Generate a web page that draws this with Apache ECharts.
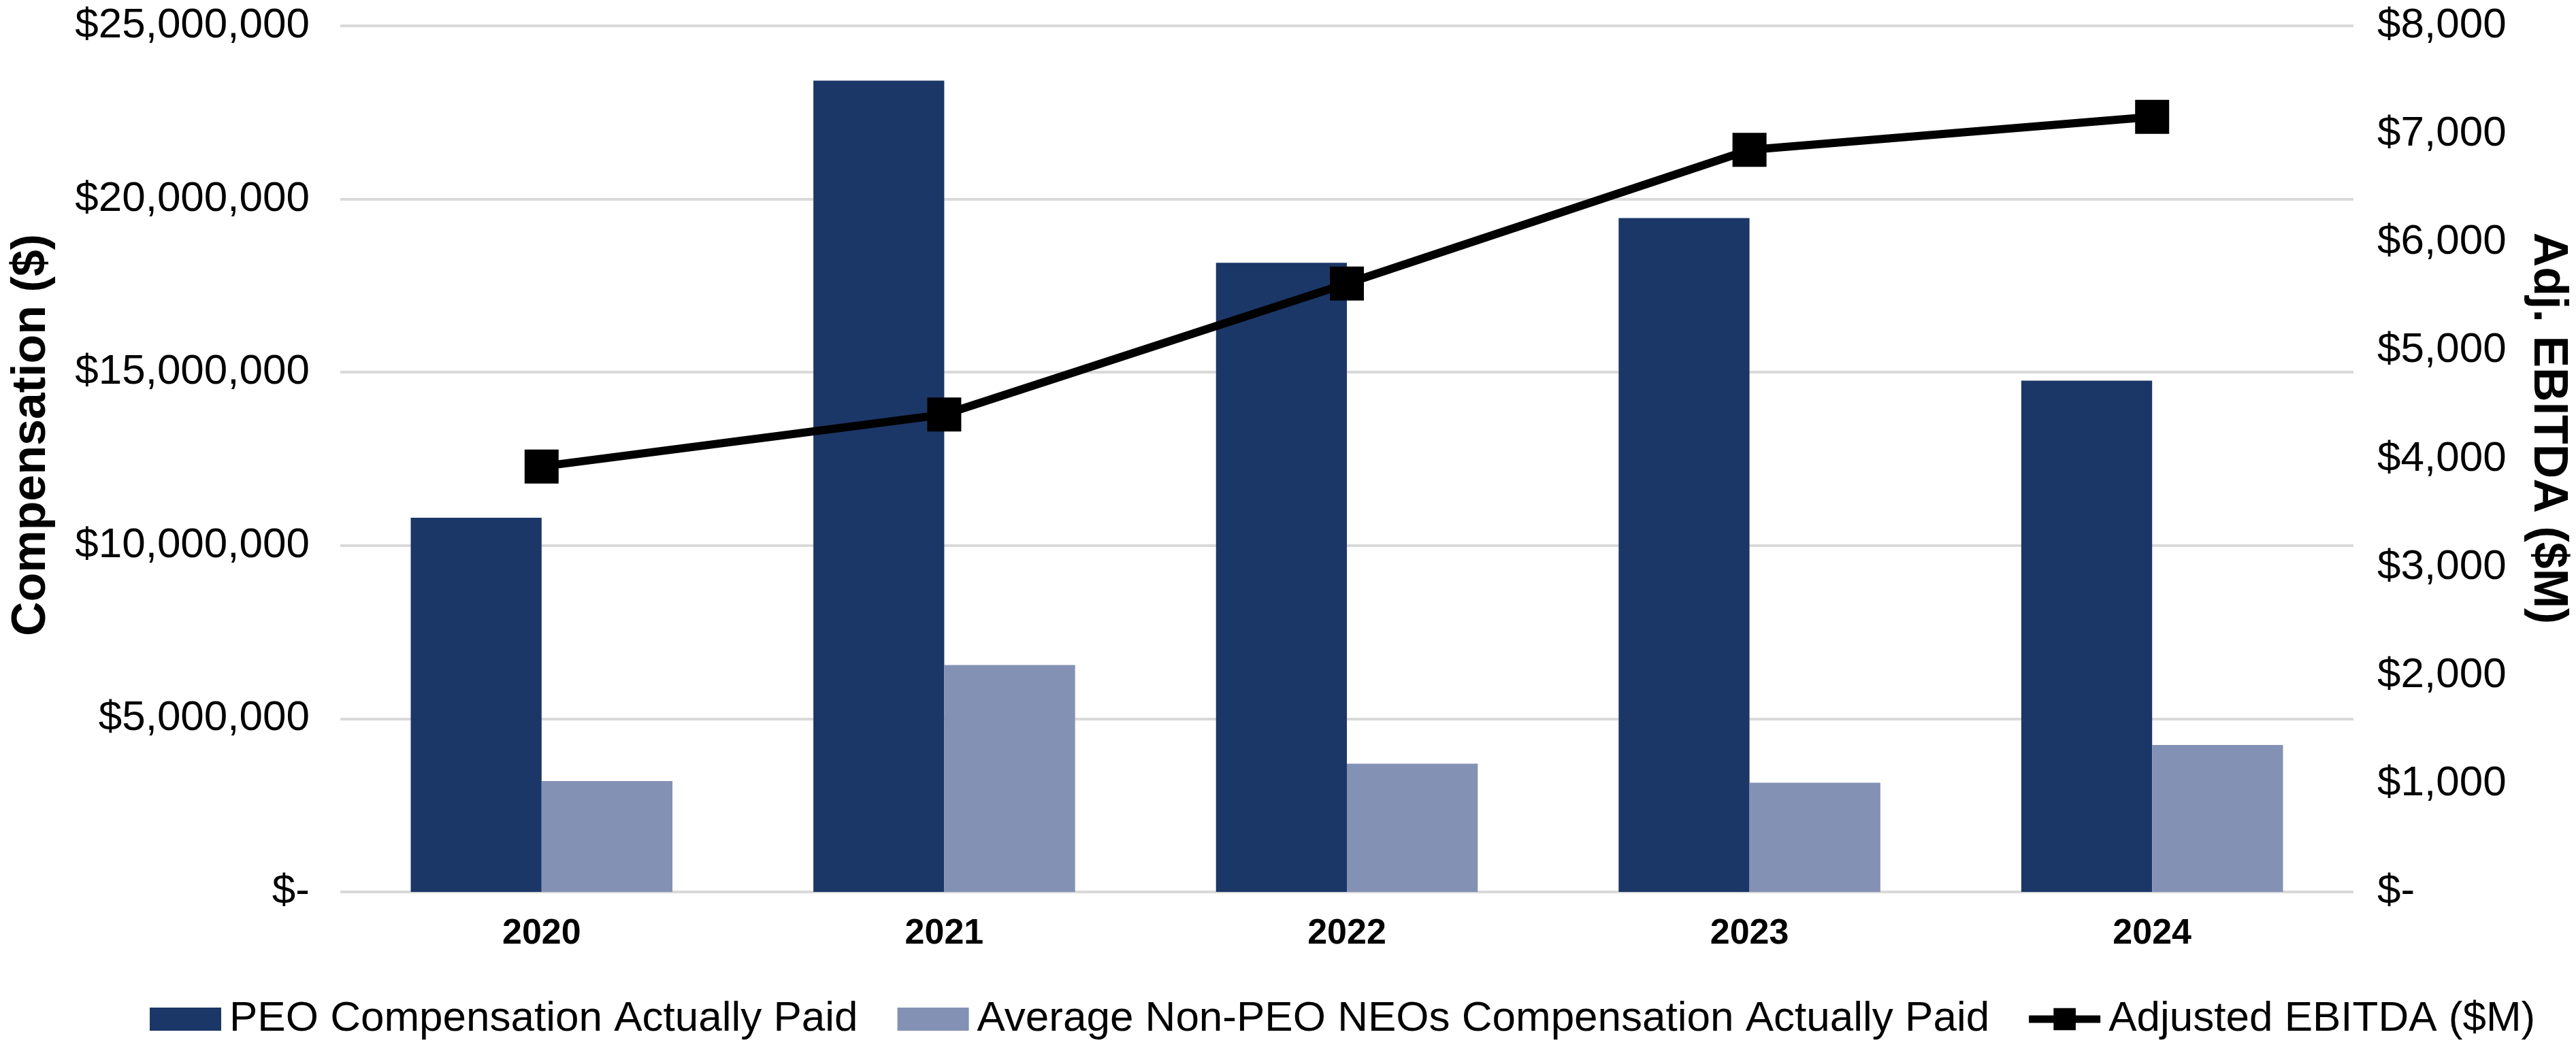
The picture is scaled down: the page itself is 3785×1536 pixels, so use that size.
<!DOCTYPE html>
<html>
<head>
<meta charset="utf-8">
<script src="https://cdn.jsdelivr.net/npm/echarts@6/dist/echarts.min.js"></script>
<style>
html,body{margin:0;padding:0;background:#fff;}
#chart{width:3785px;height:1536px;}
</style>
</head>
<body>
<div id="chart"></div>
<script>
const categories = ['2020', '2021', '2022', '2023', '2024'];
const peoCap = [10800000, 23420000, 18160000, 19450000, 14760000];
const neoCap = [3200000, 6550000, 3700000, 3150000, 4240000];
const adjEbitda = [3930, 4410, 5620, 6855, 7160];
const seriesNames = ['PEO Compensation Actually Paid', 'Average Non-PEO NEOs Compensation Actually Paid', 'Adjusted EBITDA ($M)'];
const leftAxisTitle = 'Compensation ($)';
const rightAxisTitle = 'Adj. EBITDA ($M)';

const FONT = "'Liberation Sans', Arial, sans-serif";
function fmtMoney(v) {
  if (v === 0) return '$-';
  return '$' + Math.round(v).toString().replace(/\B(?=(\d{3})+(?!\d))/g, ',');
}

const chart = echarts.init(document.getElementById('chart'), null, {renderer: 'canvas'});
chart.setOption({
  backgroundColor: '#ffffff',
  animation: false,
  textStyle: {fontFamily: FONT},
  grid: {left: 500, right: 327, top: 38, bottom: 225, containLabel: false, outerBoundsMode: 'none'},
  legend: {
    left: 215,
    top: 1462,
    itemWidth: 105,
    itemHeight: 34,
    itemGap: 58,
    textStyle: {fontFamily: FONT, fontSize: 62, color: '#000', padding: [0, 0, 0, 7]},
    data: [
      {name: seriesNames[0], icon: 'rect'},
      {name: seriesNames[1], icon: 'rect'},
      {name: seriesNames[2], icon: 'path://M0,12 H40 V0 H76 V12 H116 V24 H76 V36 H40 V24 H0 Z', itemStyle: {color: '#000'}}
    ]
  },
  xAxis: {
    type: 'category',
    data: categories,
    axisLine: {show: false},
    axisTick: {show: false},
    axisLabel: {fontFamily: FONT, fontSize: 52, fontWeight: 'bold', color: '#000', margin: 36}
  },
  yAxis: [
    {
      type: 'value',
      min: 0, max: 25000000, interval: 5000000,
      name: leftAxisTitle,
      nameLocation: 'middle',
      nameRotate: 90,
      nameGap: 418,
      nameTextStyle: {fontFamily: FONT, fontSize: 70, fontWeight: 'bold', color: '#000', padding: [0, 0, 0, 70]},
      axisLine: {show: false},
      axisTick: {show: false},
      axisLabel: {fontFamily: FONT, fontSize: 62, color: '#000', margin: 45, formatter: fmtMoney},
      splitLine: {show: true, lineStyle: {color: '#D9D9D9', width: 4}}
    },
    {
      type: 'value',
      min: 0, max: 8000, interval: 1000,
      name: rightAxisTitle,
      nameLocation: 'middle',
      nameRotate: -90,
      nameGap: 250,
      nameTextStyle: {fontFamily: FONT, fontSize: 70, fontWeight: 'bold', color: '#000', padding: [0, 90, 0, 0]},
      axisLine: {show: false},
      axisTick: {show: false},
      axisLabel: {fontFamily: FONT, fontSize: 62, color: '#000', margin: 35, formatter: fmtMoney},
      splitLine: {show: false}
    }
  ],
  series: [
    {
      name: seriesNames[0],
      type: 'bar',
      data: peoCap,
      yAxisIndex: 0,
      barGap: '0%',
      barCategoryGap: '35%',
      itemStyle: {color: '#1B3767'},
      z: 2
    },
    {
      name: seriesNames[1],
      type: 'bar',
      data: neoCap,
      yAxisIndex: 0,
      barGap: '0%',
      barCategoryGap: '35%',
      itemStyle: {color: '#8391B4'},
      z: 2
    },
    {
      name: seriesNames[2],
      type: 'line',
      data: adjEbitda,
      yAxisIndex: 1,
      symbol: 'rect',
      symbolSize: 50,
      lineStyle: {color: '#000', width: 12},
      itemStyle: {color: '#000'},
      z: 5
    }
  ]
});
</script>
</body>
</html>
